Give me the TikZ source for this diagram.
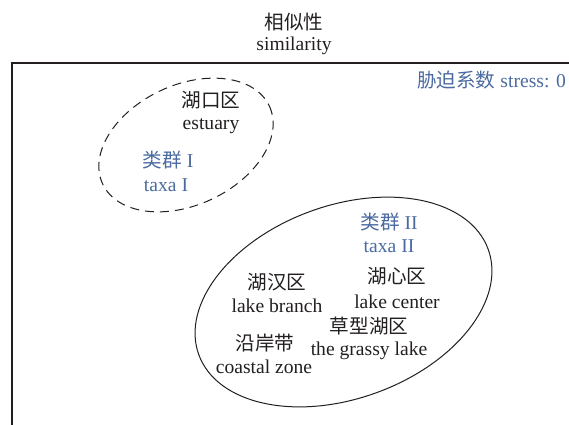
\documentclass[tikz,border=0pt]{standalone}
\usepackage{fontspec}
\setmainfont{Liberation Serif}
\newfontfamily\cjk{Noto Sans CJK SC}
\definecolor{txt}{HTML}{231F20}
\definecolor{blu}{HTML}{4A6AA0}
\begin{document}
\begin{tikzpicture}[x=1pt,y=-1pt,
  lbl/.style={text=txt,font=\fontsize{19.6}{22}\selectfont,inner sep=0pt,align=center},
  blbl/.style={lbl,text=blu}]
\useasboundingbox (0,0) rectangle (569,424);
\draw[line width=1.3pt,txt] (12,440) -- (12,63) -- (590,63);
\node[lbl] (t1) at (294,22) {\cjk 相似性};
\node[lbl] (t2) at (294,46) {similarity};
\node[blbl,anchor=east] (stress) at (566,80) {{\cjk 胁迫系数} stress: 0};
\draw[txt,line width=1pt,dash pattern=on 9pt off 6pt,rotate around={25:(186,145)}] (186,145) ellipse (92 and 60);
\draw[txt,line width=1pt,rotate around={20:(343.5,302)}] (343.5,302) ellipse (154 and 96.5);
\node[lbl] (a1) at (211,100) {\cjk 湖口区};
\node[lbl] (a2) at (211,126) {estuary};
\node[blbl] (b1) at (168,160) {{\cjk 类群} I};
\node[blbl] (b2) at (166,185) {taxa I};
\node[blbl] (c1) at (389,222) {{\cjk 类群} II};
\node[blbl] (c2) at (389,246) {taxa II};
\node[lbl] (d1) at (277,282) {\cjk 湖汉区};
\node[lbl] (d2) at (277,306) {lake branch};
\node[lbl] (e1) at (397,276) {\cjk 湖心区};
\node[lbl] (e2) at (397,302) {lake center};
\node[lbl] (f1) at (369,326) {\cjk 草型湖区};
\node[lbl] (f2) at (369,351) {the grassy lake};
\node[lbl] (g1) at (265,343) {\cjk 沿岸带};
\node[lbl] (g2) at (264,367) {coastal zone};
\end{tikzpicture}
\end{document}
